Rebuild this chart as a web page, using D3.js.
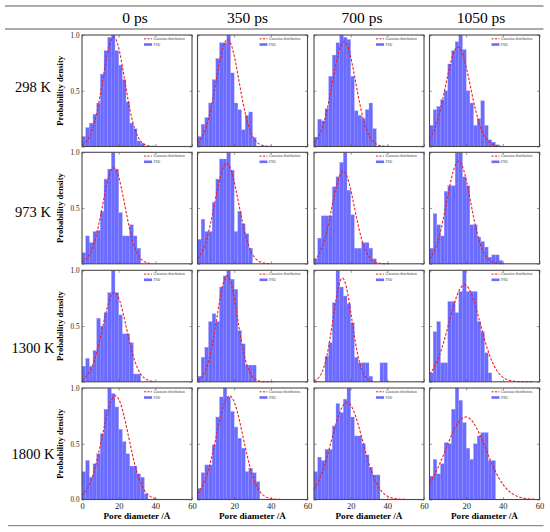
<!DOCTYPE html>
<html>
<head>
<meta charset="utf-8">
<script src="https://cdn.jsdelivr.net/npm/d3@7"></script>
<style>
body { margin: 0; background: #fff; }
text { font-family: "Liberation Serif", "Times New Roman", serif; }
</style>
</head>
<body>
<script>
'use strict';

var temps = ["298 K", "973 K", "1300 K", "1800 K"];
var times = ["0 ps", "350 ps", "700 ps", "1050 ps"];
var binWidth = 2;
var xTicks = [0, 20, 40, 60];
var yTicks = [0, 0.5, 1.0];

// PSD histograms (2 A bins from 0), one row per temperature, one entry per time
var psd298 = [
    [0.09, 0.17, 0.21, 0.29, 0.39, 0.65, 0.86, 0.98, 1.0, 0.86, 0.73, 0.60, 0.40, 0.21, 0.16, 0.05, 0.03],
    [0.09, 0.20, 0.26, 0.39, 0.60, 0.79, 0.93, 0.93, 1.0, 0.66, 0.39, 0.33, 0.15, 0.28, 0.31, 0.08],
    [0.085, 0.245, 0.23, 0.34, 0.63, 0.82, 0.93, 1.0, 0.98, 0.96, 0.63, 0.32, 0.28, 0.25, 0.33, 0.39, 0.16],
    [0.19, 0.33, 0.36, 0.42, 0.50, 0.74, 0.86, 0.94, 1.0, 0.87, 0.50, 0.39, 0.19, 0.25, 0.41, 0.19, 0.06, 0.04, 0.015]
];
var psd973 = [
    [0.10, 0.25, 0.19, 0.29, 0.30, 0.47, 0.76, 0.85, 1.0, 0.85, 0.46, 0.25, 0.25, 0.35, 0.25, 0.14],
    [0.22, 0.40, 0.29, 0.29, 0.55, 0.76, 0.94, 0.94, 1.0, 0.84, 0.29, 0.47, 0.36, 0.27, 0.14],
    [0.045, 0.23, 0.43, 0.43, 0.43, 0.69, 0.78, 0.91, 1.0, 0.66, 0.44, 0.14, 0.14, 0.19, 0.19, 0.14, 0.045],
    [0.14, 0.45, 0.35, 0.25, 0.65, 0.70, 0.70, 1.0, 1.0, 0.78, 0.70, 0.35, 0.35, 0.24, 0.20, 0.15, 0.06, 0.08, 0.08, 0.03]
];
var psd1300 = [
    [0.14, 0.21, 0.14, 0.28, 0.57, 0.50, 0.62, 0.80, 1.0, 0.80, 0.60, 0.43, 0.43, 0.35, 0.07, 0.07],
    [0.05, 0.22, 0.31, 0.54, 0.61, 0.54, 0.85, 0.95, 1.0, 0.92, 0.83, 0.46, 0.34, 0.15, 0.15, 0.15],
    [0, 0, 0, 0.23, 0.35, 0.71, 1.0, 0.85, 0.77, 0.70, 0.53, 0.22, 0.17, 0.17, 0.17, 0.05, 0, 0, 0.17, 0.17],
    [0.08, 0.45, 0.54, 0.17, 0.17, 0.72, 0.72, 0.62, 0.81, 1.0, 0.81, 0.81, 0.81, 0.54, 0.45, 0.26, 0.08]
];
var psd1800 = [
    [0.25, 0.35, 0.20, 0.32, 0.41, 0.59, 0.81, 1.0, 0.95, 0.83, 0.63, 0.52, 0.41, 0.30, 0.30, 0.23, 0.20, 0.05],
    [0.10, 0.24, 0.31, 0.31, 0.49, 0.74, 0.92, 1.0, 0.92, 0.79, 0.65, 0.55, 0.46, 0.25, 0.28, 0.24, 0.16],
    [0.25, 0.38, 0.35, 0.45, 0.45, 0.66, 0.86, 0.78, 0.90, 1.0, 0.74, 0.57, 0.57, 0.50, 0.40, 0.29, 0.22, 0.22],
    [0.21, 0.36, 0.23, 0.32, 0.51, 0.50, 0.81, 1.0, 0.89, 0.69, 0.46, 0.36, 0.50, 0.57, 0.60, 0.60, 0.35, 0.35]
];

// gaussian fits: [mean, sigma, peak, last x drawn]
var fit298 = [[17.3, 6.0, 0.98, 41], [16.4, 6.3, 0.96, 40], [16.4, 6.4, 0.94, 41], [15.5, 6.8, 0.89, 39]];
var fit973 = [[17.3, 6.1, 0.86, 37], [15.9, 6.5, 0.90, 39], [15.9, 6.2, 0.83, 41], [15.9, 6.5, 0.92, 41]];
var fit1300 = [[17.7, 6.5, 0.80, 40], [16.2, 5.6, 0.95, 41], [15.5, 5.1, 0.93, 32], [19.1, 8.5, 0.87, 57]];
var fit1800 = [[18.2, 7.2, 0.93, 41], [17.5, 7.3, 0.93, 50], [18.0, 8.5, 0.87, 57], [19.8, 11.0, 0.74, 58]];

var psdRows = [psd298, psd973, psd1300, psd1800];
var fitRows = [fit298, fit973, fit1300, fit1800];

var width = 550, height = 532;
var colX = [82, 197.5, 314, 429.5];
var rowY = [35, 152.3, 270.3, 388];
var headerX = [135, 247.5, 362, 481];
var labelY = [87, 212, 348, 454];
var pw = 110, ph = 111.5;

var svg = d3.select("body").append("svg")
    .attr("width", width)
    .attr("height", height);

// table rules
[[6, 5], [29, 5], [525.7, 8]].forEach(function (r) {
    svg.append("line")
        .attr("x1", r[1]).attr("x2", 543.5)
        .attr("y1", r[0]).attr("y2", r[0])
        .attr("stroke", "#8f8f8f")
        .attr("stroke-width", 1.3);
});

svg.selectAll("text.header")
    .data(times)
    .enter().append("text")
    .attr("class", "header")
    .attr("x", (d, i) => headerX[i])
    .attr("y", 23)
    .attr("text-anchor", "middle")
    .attr("font-size", 15.5)
    .text(d => d);

svg.selectAll("text.rowlab")
    .data(temps)
    .enter().append("text")
    .attr("class", "rowlab")
    .attr("x", 33)
    .attr("y", (d, i) => labelY[i] + 5)
    .attr("text-anchor", "middle")
    .attr("font-size", 14.5)
    .text(d => d);

var x = d3.scaleLinear().domain([0, 60]).range([0, pw]);
var y = d3.scaleLinear().domain([0, 1]).range([ph, 0]);

var curve = d3.line()
    .x(d => x(d[0]))
    .y(d => y(d[1]));

psdRows.forEach(function (row, r) {
    row.forEach(function (bins, c) {
        var g = svg.append("g")
            .attr("transform", "translate(" + colX[c] + "," + rowY[r] + ")");

        g.selectAll("rect.bar")
            .data(bins)
            .enter().append("rect")
            .attr("class", "bar")
            .attr("x", (d, i) => x(i * binWidth))
            .attr("width", x(binWidth) - x(0))
            .attr("y", d => y(d))
            .attr("height", d => y(0) - y(d))
            .attr("fill", "#0000ff")
            .attr("fill-opacity", 0.58)
            .attr("stroke", "#a5a5ff")
            .attr("stroke-width", 0.3);

        var f = fitRows[r][c];
        var pts = d3.range(0, f[3] + 0.01, 0.25).map(function (t) {
            return [t, f[2] * Math.exp(-(t - f[0]) * (t - f[0]) / (2 * f[1] * f[1]))];
        });
        g.append("path")
            .datum(pts)
            .attr("fill", "none")
            .attr("stroke", "#ee1c1c")
            .attr("stroke-width", 1.1)
            .attr("stroke-dasharray", "2.6,1.6")
            .attr("d", curve);

        // axes, inward ticks on all sides
        var bottom = d3.axisBottom(x).tickValues(xTicks).tickSize(-2.5).tickPadding(3)
            .tickFormat(d => (r === 3 && (c === 0 || d > 0)) ? d : "");
        var left = d3.axisLeft(y).tickValues(yTicks).tickSize(-2.5).tickPadding(2.5)
            .tickFormat(d => (c === 0 && (r === 3 || d > 0)) ? d3.format(".1f")(d) : "");
        var top = d3.axisTop(x).tickValues(xTicks).tickSize(-2.5).tickFormat("");
        var right = d3.axisRight(y).tickValues(yTicks).tickSize(-2.5).tickFormat("");

        var gb = g.append("g").attr("transform", "translate(0," + ph + ")").call(bottom);
        var gl = g.append("g").call(left);
        var gt = g.append("g").call(top);
        var gr = g.append("g").attr("transform", "translate(" + pw + ",0)").call(right);
        [gb, gl, gt, gr].forEach(function (a) {
            a.select(".domain").remove();
            a.selectAll("line").attr("stroke", "#555").attr("stroke-width", 0.6);
            a.selectAll("text").attr("fill", "#222")
                .attr("font-family", "Liberation Serif, serif");
        });
        gb.selectAll("text").attr("font-size", 8.5);
        gl.selectAll("text").attr("font-size", 7.2);

        g.append("rect")
            .attr("width", pw).attr("height", ph)
            .attr("fill", "none")
            .attr("stroke", "#4a4a4a")
            .attr("stroke-width", 1.1);

        // legend
        var lg = g.append("g").attr("transform", "translate(" + (pw - 48) + ",0)");
        lg.append("line")
            .attr("x1", 0).attr("x2", 8).attr("y1", 3.8).attr("y2", 3.8)
            .attr("stroke", "#ee1c1c").attr("stroke-width", 1)
            .attr("stroke-dasharray", "2.2,1.3");
        lg.append("text")
            .attr("x", 9.5).attr("y", 5)
            .attr("font-size", 3.7).attr("fill", "#444")
            .text("Gaussian distribution");
        lg.append("rect")
            .attr("x", 0).attr("y", 8.2).attr("width", 8).attr("height", 2.6)
            .attr("fill", "#0000ff").attr("fill-opacity", 0.58);
        lg.append("text")
            .attr("x", 9.5).attr("y", 10.7)
            .attr("font-size", 3.7).attr("fill", "#444")
            .text("PSD");

        if (c === 0) {
            g.append("text")
                .attr("transform", "translate(-19," + (ph / 2) + ") rotate(-90)")
                .attr("text-anchor", "middle")
                .attr("font-size", 8.6)
                .attr("font-weight", "bold")
                .text("Probability density");
        }
        if (r === 3) {
            g.append("text")
                .attr("x", pw / 2)
                .attr("y", ph + 19.5)
                .attr("text-anchor", "middle")
                .attr("font-size", 9.2)
                .attr("font-weight", "bold")
                .text("Pore diameter /Å");
        }
    });
});
</script>
</body>
</html>
